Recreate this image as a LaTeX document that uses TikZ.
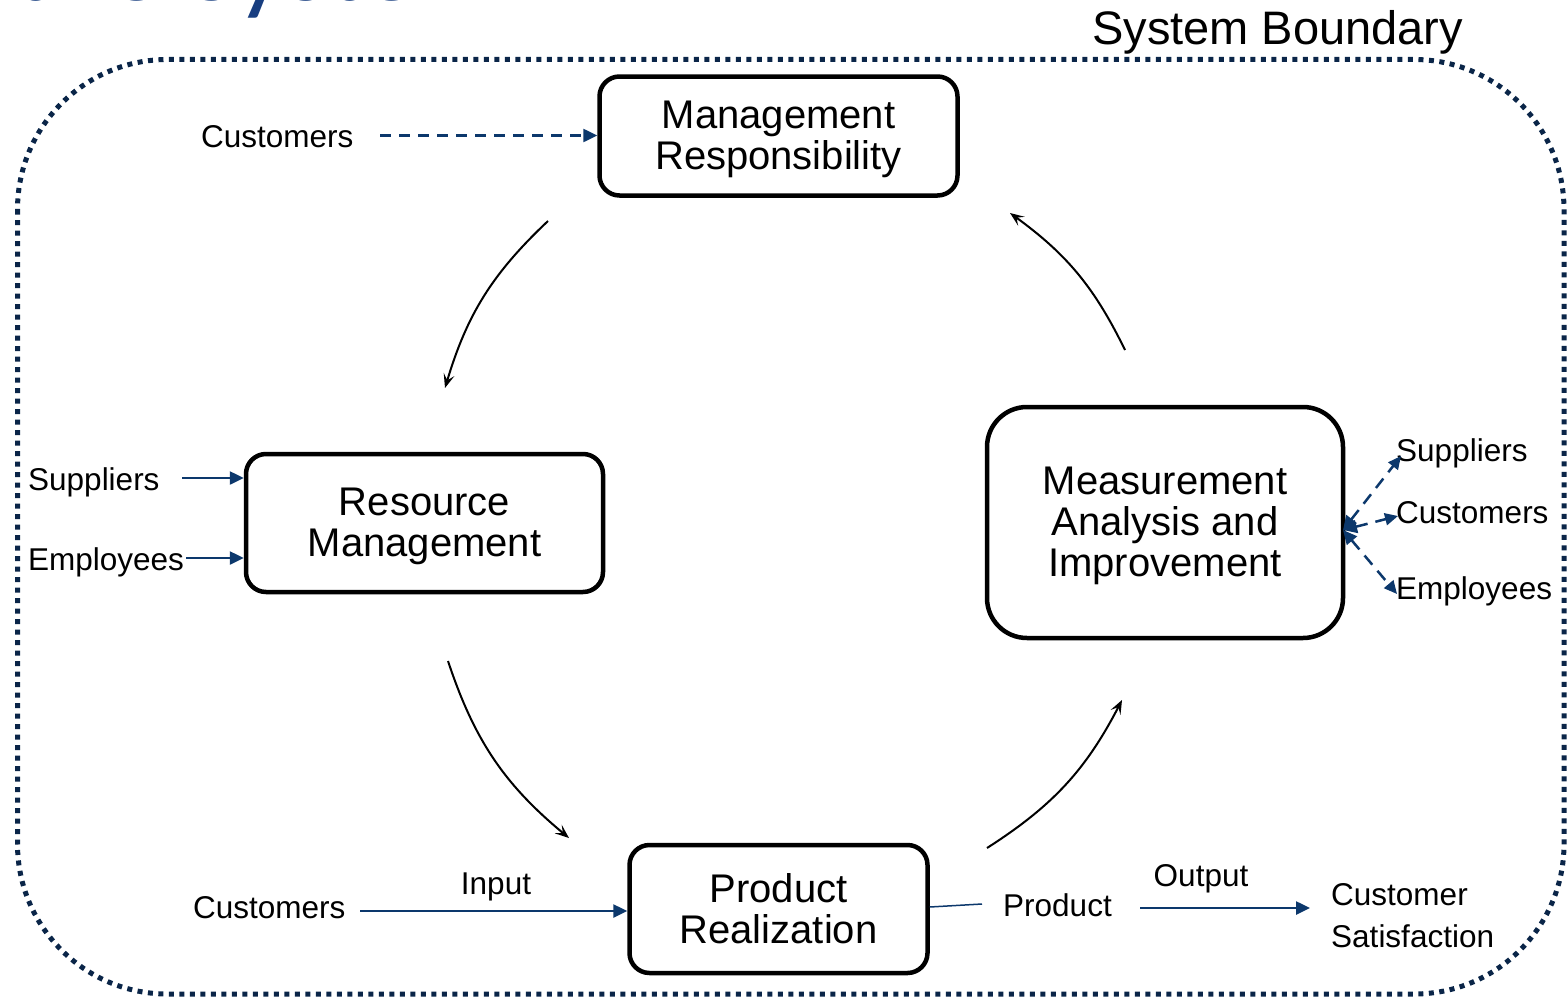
\documentclass[tikz,border=0pt]{standalone}
\usepackage{fontspec}
\setmainfont{Liberation Sans}
\newfontfamily\titlefont{Carlito}
\usetikzlibrary{arrows.meta,calc}
\definecolor{navy}{RGB}{10,37,72}
\definecolor{arrowblue}{RGB}{12,56,108}
\definecolor{titleblue}{RGB}{24,62,128}
\newcommand{\topfix}{\rule{0pt}{34pt}}
\tikzset{
 procbox/.style={draw=black, line width=4.5pt, rounded corners=20pt, inner sep=0pt, align=center, font=\fontsize{40}{41}\selectfont},
 lbl/.style={anchor=base west, inner sep=0pt, font=\fontsize{31.5}{42}\selectfont},
 clbl/.style={anchor=base, inner sep=0pt, font=\fontsize{31.5}{42}\selectfont},
 flow/.style={draw=arrowblue, line width=2.5pt, -{Triangle[length=14pt,width=13pt]}},
 dflow/.style={flow, dash pattern=on 11pt off 8pt},
 dflow2/.style={draw=arrowblue, line width=2.5pt, dash pattern=on 12pt off 8pt, {Triangle[length=14pt,width=13pt]}-{Triangle[length=13pt,width=12pt]}},
 cyc/.style={draw=black, line width=2pt, -{Stealth[length=14pt,width=11pt,inset=6pt]}},
}
\begin{document}
\begin{tikzpicture}[x=1pt,y=-1pt]
\useasboundingbox (0,0) rectangle (1568,998);
% partial title
\node[anchor=base west, inner sep=0pt, font=\titlefont\fontsize{110}{110}\selectfont, text=titleblue] (title) at (13,0.5) {the System};
% system boundary
\draw[navy, line width=5pt, dash pattern=on 5pt off 5.5pt, rounded corners=150pt] (17.5,59.5) rectangle (1564,994);
\node[anchor=base west, inner sep=0pt, font=\fontsize{47}{52}\selectfont] (sb) at (1092,45) {System Boundary};

% process boxes
\node[procbox, minimum width=358pt, minimum height=119pt] (mr) at (778.5,136) {\topfix Management\\Responsibility};
\node[procbox, minimum width=357pt, minimum height=138pt] (rm) at (424.5,523) {\topfix Resource\\Management};
\node[procbox, rounded corners=40pt, minimum width=356pt, minimum height=231pt] (mai) at (1165,522.5) {\topfix Measurement\\Analysis and\\Improvement};
\node[procbox, minimum width=298pt, minimum height=128pt] (pr) at (778.5,909) {Product\\Realization};

% labels
\node[lbl] (cT) at (201,147) {Customers};
\node[lbl] (sL) at (28,490) {Suppliers};
\node[lbl] (eL) at (28,570) {Employees};
\node[lbl] (cB) at (193,918) {Customers};
\node[clbl] (inp) at (496,894) {Input};
\node[lbl] (prod) at (1003,916) {Product};
\node[clbl] (out) at (1201,886) {Output};
\node[anchor=north west, inner sep=0pt, align=left, font=\fontsize{31.5}{42}\selectfont] (cs) at (1331,883) {Customer\\Satisfaction};
\node[lbl] (rsup) at (1396,461) {Suppliers};
\node[lbl] (rcus) at (1396,523) {Customers};
\node[lbl] (remp) at (1396,599) {Employees};

% blue connectors
\coordinate (cTa) at (380,135.5);
\draw[dflow] (cTa) -- (cTa -| mr.west);
\coordinate (sA) at (182,478);
\draw[flow] (sA) -- (sA -| rm.west);
\coordinate (eA) at (186,558);
\draw[flow] (eA) -- (eA -| rm.west);
\coordinate (inA) at (360,911);
\draw[flow] (inA) -- (inA -| pr.west);
\coordinate (pA) at (982,904);
\draw[arrowblue, line width=1.5pt] ([yshift=2pt]pr.east) -- (pA);
\coordinate (oA) at (1140,908);
\coordinate (oB) at (1310,908);
\draw[flow] (oA) -- (oB);
\coordinate (mE) at (1343,530);
\coordinate (tS) at (1401,456);
\coordinate (tC) at (1398,516);
\coordinate (tE) at (1397,594);
\draw[dflow2] (mE) -- (tS);
\draw[dflow2] (mE) -- (tC);
\draw[dflow2] (mE) -- (tE);

% cycle arrows
\coordinate (a1s) at (548,221);
\coordinate (a1e) at (445,388);
\draw[cyc] (a1s) to[bend right=15] (a1e);
\coordinate (a2s) at (448,661);
\coordinate (a2e) at (569,838);
\draw[cyc] (a2s) to[bend right=16] (a2e);
\coordinate (a3s) at (987,848);
\coordinate (a3e) at (1122,700);
\draw[cyc] (a3s) to[bend right=15] (a3e);
\coordinate (a4s) at (1125,350);
\coordinate (a4e) at (1010,213);
\draw[cyc] (a4s) to[bend right=14] (a4e);
\end{tikzpicture}
\end{document}
